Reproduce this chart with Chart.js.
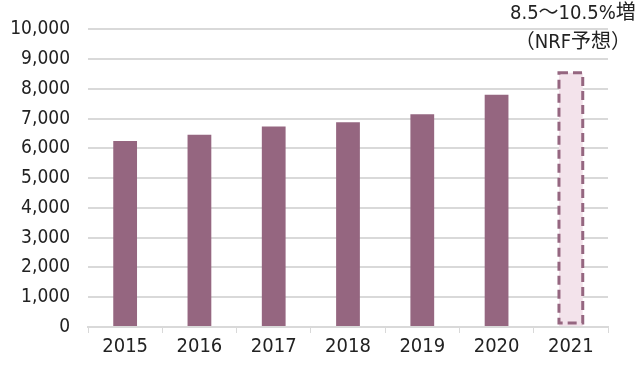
<!DOCTYPE html>
<html>
<head>
<meta charset="utf-8">
<script src="https://cdn.jsdelivr.net/npm/chart.js@4"></script>
<style>
  html, body { margin: 0; padding: 0; background: #fff; }
  #wrap { width: 640px; height: 366px; }
</style>
</head>
<body>
<div id="wrap"><canvas id="salesChart"></canvas></div>
<script>
// 年ごとのデータ
const years = ['2015', '2016', '2017', '2018', '2019', '2020', '2021'];
const sales = [6250, 6460, 6740, 6880, 7150, 7800, 8540];
const noteLines = ['8.5～10.5%増', '（NRF予想）'];

const barColor = '#956680';
const forecastFill = '#f3e3eb';
const fontFamily = '"DejaVu Sans Condensed", "Noto Sans CJK JP", sans-serif';

// 2021年の予想バーを点線で囲む
const dashedBar = {
    id: 'dashedBar',
    afterDatasetsDraw(chart) {
        const bar = chart.getDatasetMeta(0).data[6];
        const p = bar.getProps(['x', 'y', 'base', 'width'], true);
        const ctx = chart.ctx;
        ctx.save();
        ctx.strokeStyle = barColor;
        ctx.lineWidth = 3;
        ctx.setLineDash([9, 5]);
        ctx.strokeRect(p.x - p.width / 2, p.y, p.width, p.base - p.y - 3);
        ctx.restore();
    },
    afterDraw(chart) {
        const ctx = chart.ctx;
        const x = chart.scales.x.getPixelForValue(6);
        ctx.save();
        ctx.fillStyle = '#222';
        ctx.font = '20px ' + fontFamily;
        ctx.textAlign = 'center';
        ctx.textBaseline = 'middle';
        ctx.fillText(noteLines[0], x + 2, 14);
        ctx.fillText(noteLines[1], x + 2, 43);
        ctx.restore();
    }
};

const ctx = document.getElementById('salesChart').getContext('2d');
new Chart(ctx, {
    type: 'bar',
    data: {
        labels: years,
        datasets: [{
            data: sales,
            backgroundColor: years.map((y, i) => i === 6 ? forecastFill : barColor),
            borderWidth: 0,
            barPercentage: 0.32,
            categoryPercentage: 1
        }]
    },
    options: {
        responsive: true,
        maintainAspectRatio: false,
        animation: false,
        layout: { padding: { top: 13, right: 32, left: 7, bottom: 5 } },
        plugins: {
            legend: { display: false },
            tooltip: { enabled: false }
        },
        scales: {
            x: {
                offset: true,
                grid: {
                    offset: true,
                    drawOnChartArea: false,
                    drawTicks: true,
                    tickLength: 6,
                    color: '#d9d9d9'
                },
                border: { color: '#d9d9d9', width: 2 },
                ticks: {
                    color: '#222',
                    font: { family: fontFamily, size: 20 },
                    padding: 2,
                    autoSkip: false
                }
            },
            y: {
                min: 0,
                max: 10000,
                afterFit: scale => { scale.width = 81; },
                grid: { color: '#d9d9d9', lineWidth: 2, drawTicks: false },
                border: { display: false },
                ticks: {
                    stepSize: 1000,
                    autoSkip: false,
                    color: '#222',
                    padding: 18,
                    font: { family: fontFamily, size: 19 },
                    callback: v => v.toLocaleString('en-US')
                }
            }
        }
    },
    plugins: [dashedBar]
});
</script>
</body>
</html>
